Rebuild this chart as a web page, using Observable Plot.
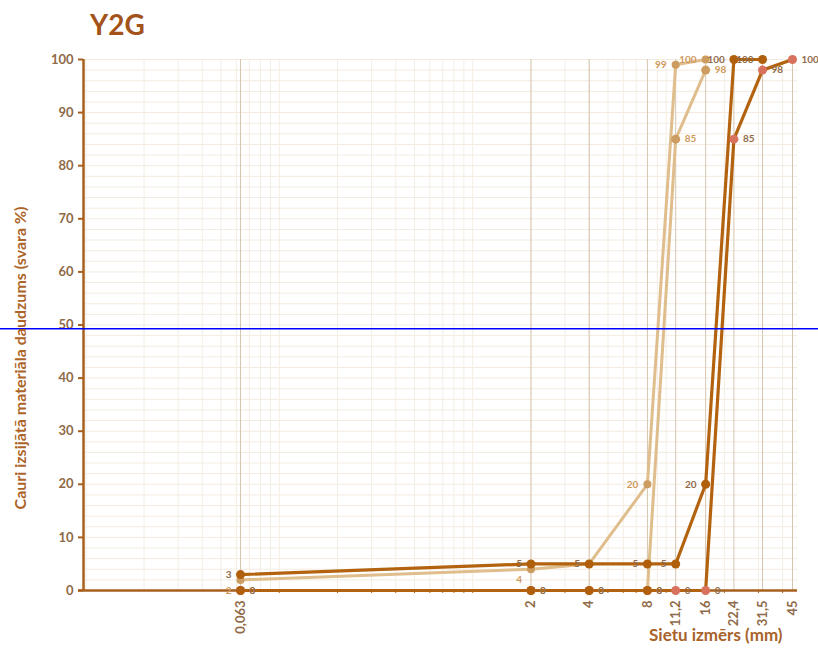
<!DOCTYPE html>
<html><head><meta charset="utf-8">
<script src="https://cdn.jsdelivr.net/npm/d3@7"></script>
<script src="https://cdn.jsdelivr.net/npm/@observablehq/plot@0.6"></script>
<style>
body{margin:0;background:#fff;font-family:Lato,"Open Sans",sans-serif;}
#title{height:44px;position:relative}
#title span{position:absolute;left:90px;top:10px;font-size:28px;line-height:1;font-weight:bold;color:#a3521a;}
</style></head><body>
<div id="title"><span>Y2G</span></div>
<div id="chart"></div>
<script>
// sieve sizes (mm) and their labels
const sieves = [0.063, 2, 4, 8, 11.2, 16, 22.4, 31.5, 45];
const sieveLabels = ["0,063", "2", "4", "8", "11,2", "16", "22,4", "31,5", "45"];
// passing percentages per curve (null = no point)
const fineUpper   = [2, 4, 5, 20, 99, 100, null, null, null];
const fineLower   = [0, 0, 0, 0, 85, 98, null, null, null];
const coarseUpper = [3, 5, 5, 5, 5, 20, 100, 100, null];
const coarseLower = [0, 0, 0, 0, 0, 0, 85, 98, 100];
const yTicks = [0, 10, 20, 30, 40, 50, 60, 70, 80, 90, 100];
const yMinor = [0,2,4,6,8,10,12,14,16,18,20,22,24,26,28,30,32,34,36,38,40,42,44,46,48,50,52,54,56,58,60,62,64,66,68,70,72,74,76,78,80,82,84,86,88,90,92,94,96,98,100];
const xMinor = [0.01,0.02,0.03,0.04,0.05,0.06,0.07,0.08,0.09,0.1,0.2,0.3,0.4,0.5,0.6,0.7,0.8,0.9,1,2,3,4,5,6,7,8,9,10,20,30,40];
const markerLine = [49.3];
const xTitle = "Sietu izmērs (mm)";
const yTitle = "Cauri izsijātā materiāla daudzums (svara %)";

const labelMap = new Map(sieves.map((s, i) => [s, sieveLabels[i]]));
function toRows(values) {
  return sieves.map((s, i) => ({x: s, y: values[i]})).filter(d => d.y != null);
}
const s1 = toRows(fineUpper), s2 = toRows(fineLower), s3 = toRows(coarseUpper), s4 = toRows(coarseLower);

const brown = "#a8601e";
const lightLine = "#dfbd8c", darkLine = "#b3630f";
const lightDot = "#cc9c60", darkDot = "#b0600c", pinkDot = "#d8725e";
const lightText = "#d09a5c", darkText = "#8f6a48";

const chart = Plot.plot({
  width: 818, height: 605,
  marginLeft: 83, marginRight: 21, marginTop: 15, marginBottom: 59,
  style: {fontFamily: "Lato, 'Open Sans', sans-serif", fontWeight: "bold", background: "white"},
  x: {type: "log", domain: [0.00972, 47.76]},
  y: {domain: [0, 100]},
  marks: [
    Plot.ruleY(yMinor, {stroke: "#f3ebe0", strokeWidth: 1}),
    Plot.ruleX(xMinor, {stroke: "#f4ede3", strokeWidth: 1}),
    Plot.ruleX(sieves, {stroke: "#d6c6b0", strokeWidth: 1}),
    Plot.axisY(yTicks, {tickSize: 5, tickPadding: 5, stroke: brown, fill: darkText, fontSize: 13, fontWeight: "bold", label: null, strokeWidth: 2}),
    Plot.axisX(xMinor.filter(d => d >= 0.1), {tickSize: 3, tickFormat: () => "", stroke: brown, label: null}),
    Plot.text(sieves, {x: d => d, frameAnchor: "bottom", rotate: -90, textAnchor: "end", lineAnchor: "middle", dy: 10, text: d => labelMap.get(d), fill: darkText, fontSize: 13, fontWeight: "bold"}),
    Plot.line(s1, {x: "x", y: "y", stroke: lightLine, strokeWidth: 3}),
    Plot.line(s2, {x: "x", y: "y", stroke: lightLine, strokeWidth: 3}),
    Plot.ruleY([0], {stroke: brown, strokeWidth: 2.5, insetLeft: -5}),
    Plot.ruleX([0.00972], {stroke: brown, strokeWidth: 2.5}),
    Plot.line(s4, {x: "x", y: "y", stroke: darkLine, strokeWidth: 3.2}),
    Plot.line(s3, {x: "x", y: "y", stroke: darkLine, strokeWidth: 3.2}),
    Plot.dot(s1, {x: "x", y: "y", r: 4, fill: lightDot}),
    Plot.dot(s4, {x: "x", y: "y", r: 4.5, fill: pinkDot}),
    Plot.dot(s2, {x: "x", y: "y", r: 4.5, fill: d => d.y === 0 ? darkDot : lightDot}),
    Plot.dot(s3, {x: "x", y: "y", r: 4.5, fill: darkDot}),
    Plot.text(s1.filter(d => d.y < 5), {x: "x", y: "y", text: "y", textAnchor: "end", dx: -9, dy: 11, fill: lightText, fontSize: 10}),
    Plot.text(s1.filter(d => d.y >= 5), {x: "x", y: "y", text: "y", textAnchor: "end", dx: -9, fill: lightText, fontSize: 10}),
    Plot.text(s2, {x: "x", y: "y", text: "y", textAnchor: "start", dx: 9, fill: lightText, fontSize: 10}),
    Plot.text(s3, {x: "x", y: "y", text: "y", textAnchor: "end", dx: -9, fill: darkText, fontSize: 10}),
    Plot.text(s4, {x: "x", y: "y", text: "y", textAnchor: "start", dx: 9, fill: darkText, fontSize: 10}),
    Plot.ruleY(markerLine, {stroke: "#0000ff", strokeWidth: 1.5, insetLeft: -83, insetRight: -21}),
    Plot.text([yTitle], {frameAnchor: "left", textAnchor: "middle", rotate: -90, dx: -63, dy: 33, fill: "#ad6428", fontSize: 16, fontWeight: "bold"}),
    Plot.text([xTitle], {frameAnchor: "bottom-right", textAnchor: "end", dx: -15, dy: 50, fill: "#a8622a", fontSize: 17, fontWeight: "bold"})
  ]
});
document.getElementById("chart").appendChild(chart);
</script>
</body></html>
